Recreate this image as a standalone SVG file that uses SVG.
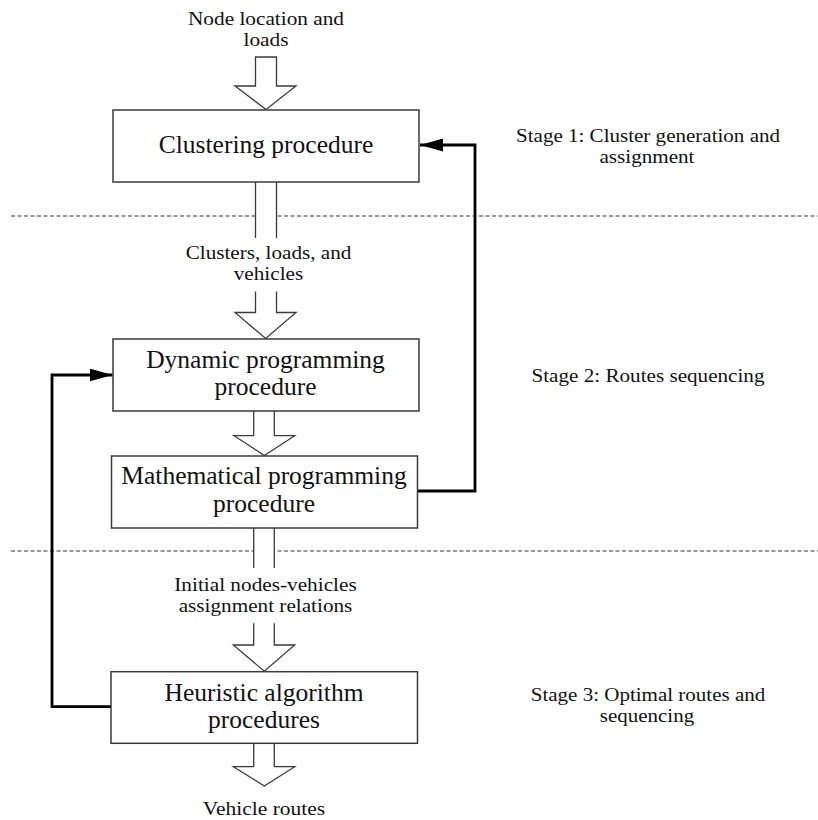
<svg xmlns="http://www.w3.org/2000/svg" width="818" height="820" viewBox="0 0 818 820">
<defs>
<style>
.t{font-family:"Liberation Serif","Times New Roman",serif;fill:#111;text-anchor:middle}
.big{font-size:25.5px}
.sm{font-size:18.5px}
.box{fill:#fff;stroke:#3a3a3a;stroke-width:1.5}
.fat{fill:#fff;stroke:#3a3a3a;stroke-width:1.3;stroke-linejoin:miter}
.sh{fill:#fff;stroke:none}
.edge{fill:none;stroke:#3a3a3a;stroke-width:1.3}
.dash{stroke:#333;stroke-width:1;stroke-dasharray:4,2.5}
.fb{fill:none;stroke:#000;stroke-width:2.8}
</style>
<marker id="ah" markerWidth="24" markerHeight="13" refX="23" refY="6.5" orient="auto" markerUnits="userSpaceOnUse">
<path d="M0,0 L23,6.5 L0,13 Z" fill="#000"/>
</marker>
</defs>
<rect width="818" height="820" fill="#fff"/>

<g id="dividers">
<line class="dash" x1="11" y1="216" x2="818" y2="216"/>
<line class="dash" x1="11" y1="551" x2="818" y2="551"/>
</g>

<g id="connectors">
<path class="fat" d="M255.5,57 L276.5,57 L276.5,86 L296,86 L266,109.5 L235,86 L255.5,86 Z"/>
<rect class="sh" x="255.5" y="182" width="21" height="56"/>
<path class="edge" d="M255.5,182 V238 M276.5,182 V238"/>
<path class="fat" d="M255.5,291.5 V312.5 H235 L265.7,338.5 L296,312.5 H276.5 V291.5"/>
<path class="fat" d="M253.7,410.7 V435.7 H234 L264.3,455.5 L294.7,435.7 H274.3 V410.7"/>
<rect class="sh" x="253.7" y="528" width="20.6" height="40"/>
<path class="edge" d="M253.7,528 V568 M274.3,528 V568"/>
<path class="fat" d="M253.7,623.3 V645 H233.3 L264.3,671.2 L294.7,645 H274.3 V623.3"/>
<path class="fat" d="M253.7,743.3 V766.7 H233.3 L264.3,786 L294.7,766.7 H274.3 V743.3"/>
<path class="fb" d="M417.5,491 H475 V145 H420" marker-end="url(#ah)"/>
<path class="fb" d="M111,706.7 H52 V375 H112.5" marker-end="url(#ah)"/>
</g>

<g id="input-label">
<text class="t sm" x="266" y="25" textLength="156" lengthAdjust="spacingAndGlyphs">Node location and</text>
<text class="t sm" x="266" y="45.6" textLength="45" lengthAdjust="spacingAndGlyphs">loads</text>
</g>

<g id="clustering">
<rect class="box" x="113" y="110" width="306" height="72"/>
<text class="t big" x="266" y="153">Clustering procedure</text>
</g>

<g id="clusters-label">
<text class="t sm" x="268.5" y="259.4" textLength="165.7" lengthAdjust="spacingAndGlyphs">Clusters, loads, and</text>
<text class="t sm" x="268.5" y="280" textLength="69.5" lengthAdjust="spacingAndGlyphs">vehicles</text>
</g>

<g id="dynamic">
<rect class="box" x="113" y="339" width="306" height="72"/>
<text class="t big" x="265.5" y="368.3">Dynamic programming</text>
<text class="t big" x="265.5" y="395">procedure</text>
</g>

<g id="math">
<rect class="box" x="111.5" y="456" width="306" height="72"/>
<text class="t big" x="264" y="484.3">Mathematical programming</text>
<text class="t big" x="264" y="511.7">procedure</text>
</g>

<g id="initial-label">
<text class="t sm" x="265.5" y="591.2" textLength="182.4" lengthAdjust="spacingAndGlyphs">Initial nodes-vehicles</text>
<text class="t sm" x="265.5" y="611.8" textLength="173.7" lengthAdjust="spacingAndGlyphs">assignment relations</text>
</g>

<g id="heuristic">
<rect class="box" x="111" y="671.7" width="306.5" height="71.6"/>
<text class="t big" x="264" y="700.7">Heuristic algorithm</text>
<text class="t big" x="264" y="728.3">procedures</text>
</g>

<g id="output-label">
<text class="t sm" x="264" y="814.5" textLength="122.3" lengthAdjust="spacingAndGlyphs">Vehicle routes</text>
</g>

<g id="stage1">
<text class="t sm" x="648" y="141.5" textLength="264" lengthAdjust="spacingAndGlyphs">Stage 1: Cluster generation and</text>
<text class="t sm" x="647" y="162.5" textLength="95" lengthAdjust="spacingAndGlyphs">assignment</text>
</g>
<g id="stage2">
<text class="t sm" x="648" y="381.7" textLength="233" lengthAdjust="spacingAndGlyphs">Stage 2: Routes sequencing</text>
</g>
<g id="stage3">
<text class="t sm" x="648" y="701.2" textLength="234.5" lengthAdjust="spacingAndGlyphs">Stage 3: Optimal routes and</text>
<text class="t sm" x="647" y="722.2" textLength="94.3" lengthAdjust="spacingAndGlyphs">sequencing</text>
</g>
</svg>
